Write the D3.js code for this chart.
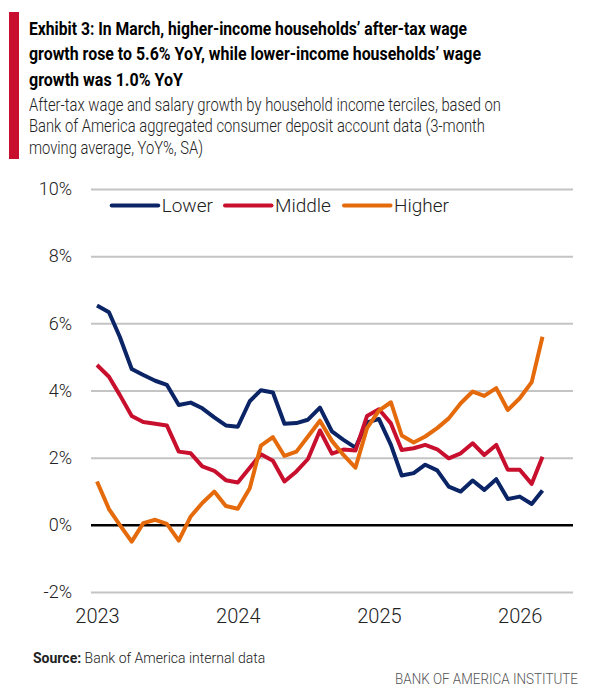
<!DOCTYPE html>
<html>
<head>
<meta charset="utf-8">
<script src="https://cdn.jsdelivr.net/npm/d3@7"></script>
<style>
  body { margin: 0; background: #fff; }
  svg { display: block; }
</style>
</head>
<body>
<svg id="chart" width="589" height="698"></svg>
<script>
// monthly, Jan 2023 .. Mar 2026
const months = [
  "2023-01","2023-02","2023-03","2023-04","2023-05","2023-06","2023-07","2023-08","2023-09","2023-10","2023-11","2023-12",
  "2024-01","2024-02","2024-03","2024-04","2024-05","2024-06","2024-07","2024-08","2024-09","2024-10","2024-11","2024-12",
  "2025-01","2025-02","2025-03","2025-04","2025-05","2025-06","2025-07","2025-08","2025-09","2025-10","2025-11","2025-12",
  "2026-01","2026-02","2026-03"
];
const lower = [6.53, 6.33, 5.60, 4.64, 4.46, 4.29, 4.17, 3.57, 3.64, 3.47, 3.20, 2.96,
               2.92, 3.68, 4.01, 3.94, 3.01, 3.03, 3.13, 3.49, 2.78, 2.53, 2.30, 3.05,
               3.15, 2.38, 1.47, 1.54, 1.79, 1.62, 1.14, 0.99, 1.32, 1.04, 1.36, 0.77,
               0.84, 0.62, 1.02];
const middle = [4.76, 4.41, 3.87, 3.24, 3.06, 3.01, 2.96, 2.18, 2.13, 1.74, 1.61, 1.33,
                1.26, 1.70, 2.10, 1.91, 1.29, 1.59, 1.96, 2.81, 2.12, 2.24, 2.21, 3.24,
                3.44, 3.02, 2.23, 2.28, 2.38, 2.25, 1.98, 2.13, 2.43, 2.08, 2.38, 1.64,
                1.64, 1.22, 2.03];
const higher = [1.29, 0.47, 0.00, -0.50, 0.05, 0.15, 0.03, -0.47, 0.25, 0.65, 0.99, 0.56,
                0.48, 1.09, 2.36, 2.61, 2.05, 2.18, 2.63, 3.10, 2.50, 2.08, 1.70, 2.88,
                3.40, 3.65, 2.66, 2.45, 2.63, 2.88, 3.17, 3.62, 3.97, 3.84, 4.07, 3.42,
                3.77, 4.25, 5.60];
const seriesNames = ["Lower", "Middle", "Higher"];
const seriesColors = ["#0a2466", "#c8102e", "#e46a0b"];
const yTicks = [-2, 0, 2, 4, 6, 8, 10];
const yearTicks = ["2023", "2024", "2025", "2026"];

const titleLines = [
  "Exhibit 3: In March, higher-income households\u2019 after-tax wage",
  "growth rose to 5.6% YoY, while lower-income households\u2019 wage",
  "growth was 1.0% YoY"
];
const subtitleLines = [
  "After-tax wage and salary growth by household income terciles, based on",
  "Bank of America aggregated consumer deposit account data (3-month",
  "moving average, YoY%, SA)"
];

const svg = d3.select("#chart");
const font = "Roboto, 'Liberation Sans', sans-serif";

// header
svg.append("rect").attr("x", 9).attr("y", 12).attr("width", 10).attr("height", 147).attr("fill", "#c8102e");

const titleW = [438, 452, 154];
svg.selectAll("text.title").data(titleLines).enter().append("text")
  .attr("class", "title")
  .attr("x", 29).attr("y", (d, i) => 34.5 + i * 25.7)
  .attr("textLength", (d, i) => titleW[i])
  .attr("lengthAdjust", "spacingAndGlyphs")
  .style("font-family", font).style("font-weight", 700).style("font-size", "18.5px")
  .attr("fill", "#000")
  .text(d => d);

const subW = [472, 456, 174];
svg.selectAll("text.sub").data(subtitleLines).enter().append("text")
  .attr("class", "sub")
  .attr("x", 29).attr("y", (d, i) => 110.5 + i * 21.6)
  .attr("textLength", (d, i) => subW[i])
  .attr("lengthAdjust", "spacingAndGlyphs")
  .style("font-family", font).style("font-weight", 300).style("font-size", "17.5px")
  .attr("fill", "#222")
  .text(d => d);

// scales
const parse = d3.timeParse("%Y-%m");
const dates = months.map(parse);
const x = d3.scaleTime().domain([dates[0], dates[dates.length - 1]]).range([97, 542.5]);
const y = d3.scaleLinear().domain([-2, 10]).range([592, 189]);
const left = 91, right = 573;

// y axis + grid
const yAxis = svg.append("g")
  .attr("transform", `translate(${left},0)`)
  .call(d3.axisLeft(y).tickValues(yTicks).tickSize(-(right - left)).tickPadding(19).tickFormat(d => d + "%"));
yAxis.select(".domain").remove();
yAxis.selectAll(".tick line")
  .attr("stroke", d => d === 0 ? "#000" : "#c4c4c4")
  .attr("stroke-width", d => d === 0 ? 2.5 : 2);
yAxis.selectAll(".tick text")
  .style("font-family", font).style("font-weight", 300).style("font-size", "18px")
  .attr("fill", "#222");

// x axis
const xAxis = svg.append("g")
  .attr("transform", "translate(0,609)")
  .call(d3.axisBottom(x).tickValues(yearTicks.map(d => parse(d + "-01"))).tickSize(0).tickPadding(0)
    .tickFormat(d3.timeFormat("%Y")));
xAxis.select(".domain").remove();
xAxis.selectAll(".tick text")
  .style("font-family", font).style("font-weight", 300).style("font-size", "20px")
  .attr("fill", "#222");

// lines: zero line drawn first, series over it
const line = d3.line().x((d, i) => x(dates[i])).y(d => y(d));
const seriesData = [lower, middle, higher];
svg.append("g").selectAll("path").data(seriesData).enter().append("path")
  .attr("d", line)
  .attr("fill", "none")
  .attr("stroke", (d, i) => seriesColors[i])
  .attr("stroke-width", 4)
  .attr("stroke-linejoin", "round");

// legend
const legendX = [111.7, 225, 344];
const lg = svg.append("g").selectAll("g").data(seriesNames).enter().append("g")
  .attr("transform", (d, i) => `translate(${legendX[i]},205.5)`);
lg.append("line").attr("x1", 0).attr("x2", 46.5).attr("y1", 0).attr("y2", 0)
  .attr("stroke", (d, i) => seriesColors[i]).attr("stroke-width", 4).attr("stroke-linecap", "round");
lg.append("text").attr("x", 50).attr("y", 6.5)
  .style("font-family", font).style("font-weight", 300).style("font-size", "19px")
  .attr("fill", "#222")
  .text(d => d);

// footer
const src = svg.append("text").attr("x", 33).attr("y", 663)
  .style("font-family", font).style("font-size", "14px").attr("fill", "#222");
src.append("tspan").style("font-weight", 700).text("Source:");
src.append("tspan").style("font-weight", 300).text(" Bank of America internal data");

svg.append("text").attr("x", 578).attr("y", 684).attr("text-anchor", "end")
  .attr("textLength", 183).attr("lengthAdjust", "spacingAndGlyphs")
  .style("font-family", font).style("font-weight", 300).style("font-size", "14px")
  .attr("fill", "#555")
  .text("BANK OF AMERICA INSTITUTE");
</script>
</body>
</html>
